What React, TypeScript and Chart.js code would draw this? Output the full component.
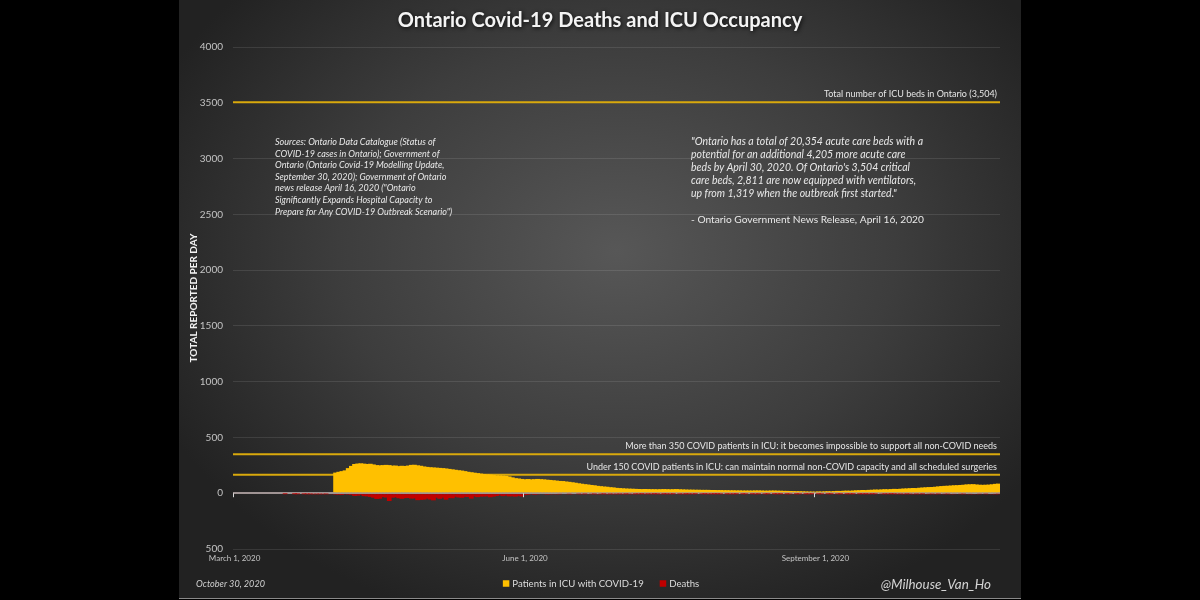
import React, { useEffect, useRef } from "react";
import { Chart, registerables } from "chart.js";

Chart.register(...registerables);

// ---------- data ----------
const FIRST_DAY = "2020-03-01";
const LAST_DAY = "2020-10-29";
const MONTH_NAMES = ["January", "February", "March", "April", "May", "June", "July", "August", "September", "October", "November", "December"];
const SHOWN_TICKS = ["March 1, 2020", "June 1, 2020", "September 1, 2020"];

// Patients in ICU with COVID-19 (first value = April 2, 2020)
const ICU_FIRST_DAY = "2020-04-02";
const ICU_APR = [185, 192, 198, 205, 225, 245, 262, 266, 268, 265, 262, 264, 258, 252, 250, 252, 254, 252, 247, 248, 243, 246, 244, 248, 254, 255, 250, 246, 240];
const ICU_MAY = [236, 233, 231, 229, 227, 225, 222, 218, 214, 210, 206, 203, 198, 192, 188, 184, 180, 176, 172, 169, 167, 163, 160, 159, 158, 156, 150, 142, 135, 132, 128];
const ICU_JUN = [125, 127, 124, 126, 128, 126, 124, 121, 119, 116, 113, 110, 109, 105, 102, 98, 94, 89, 85, 81, 78, 74, 71, 66, 63, 60, 58, 54, 52, 48];
const ICU_JUL = [46, 44, 42, 41, 40, 39, 38, 37, 38, 37, 36, 36, 35, 36, 37, 36, 35, 36, 37, 35, 34, 33, 32, 32, 31, 31, 30, 30, 30, 29, 29];
const ICU_AUG = [28, 28, 27, 27, 26, 26, 25, 25, 24, 24, 24, 24, 25, 25, 24, 23, 23, 24, 24, 23, 22, 21, 21, 20, 19, 18, 18, 17, 16, 15, 15];
const ICU_SEP = [14, 16, 15, 17, 18, 17, 19, 21, 20, 22, 23, 22, 24, 26, 27, 29, 28, 30, 31, 33, 32, 34, 36, 35, 37, 39, 38, 40, 42, 43];
const ICU_OCT = [45, 47, 46, 49, 51, 53, 55, 56, 58, 61, 64, 66, 67, 69, 71, 72, 74, 76, 79, 80, 81, 78, 76, 75, 76, 77, 80, 84, 86];

// Daily deaths (first value = March 17, 2020), drawn below zero
const DEATHS_FIRST_DAY = "2020-03-17";
const DEATHS_MAR = [1, 0, 0, 1, 2, 0, 2, 3, 3, 5, 4, 4, 5, 3, 10];
const DEATHS_APR = [8, 13, 14, 16, 10, 13, 15, 24, 22, 16, 26, 28, 33, 40, 51, 49, 34, 39, 70, 40, 36, 45, 50, 44, 43, 48, 46, 62, 59, 57];
const DEATHS_MAY = [48, 56, 64, 40, 50, 40, 58, 43, 45, 31, 38, 41, 32, 34, 48, 28, 35, 30, 29, 27, 36, 30, 25, 18, 26, 20, 28, 27, 30, 24, 30];
const DEATHS_JUN = [17, 15, 10, 14, 12, 9, 8, 13, 7, 10, 11, 6, 9, 8, 5, 7, 9, 4, 6, 3, 8, 5, 3, 7, 4, 2, 6, 3, 5, 4];
const DEATHS_JUL = [3, 5, 2, 4, 6, 2, 3, 1, 4, 2, 3, 1, 2, 5, 1, 2, 3, 1, 0, 2, 4, 1, 2, 3, 1, 0, 2, 1, 3, 2, 1];
const DEATHS_AUG = [1, 2, 0, 1, 3, 2, 1, 0, 1, 2, 0, 1, 3, 1, 0, 2, 1, 0, 1, 2, 1, 0, 1, 3, 0, 1, 2, 0, 1, 2, 1];
const DEATHS_SEP = [0, 1, 2, 0, 1, 1, 0, 2, 1, 0, 1, 2, 1, 0, 1, 2, 1, 3, 1, 2, 0, 4, 2, 3, 1, 2, 4, 3, 5, 2];
const DEATHS_OCT = [4, 6, 3, 5, 2, 7, 5, 4, 6, 3, 8, 5, 4, 7, 6, 9, 5, 4, 8, 6, 7, 10, 5, 9, 4, 8, 7, 6, 5];

// Reference lines
const REF_VALUES = [3504, 350, 165];
const REF_LABELS = [
  "Total number of ICU beds in Ontario (3,504)",
  "More than 350 COVID patients in ICU: it becomes impossible to support all non-COVID needs",
  "Under 150 COVID patients in ICU: can maintain normal non-COVID capacity and all scheduled surgeries",
];

const Y_MIN = -500;
const Y_MAX = 4000;
const Y_STEP = 500;

const TITLE = "Ontario Covid-19 Deaths and ICU Occupancy";
const Y_TITLE = "TOTAL REPORTED PER DAY";
const SOURCES_LINES = [
  "Sources: Ontario Data Catalogue (Status of",
  "COVID-19 cases in Ontario); Government of",
  "Ontario (Ontario Covid-19 Modelling Update,",
  "September 30, 2020); Government of Ontario",
  "news release April 16, 2020 (\"Ontario",
  "Significantly Expands Hospital Capacity to",
  "Prepare for Any COVID-19 Outbreak Scenario\")",
];
const QUOTE_LINES = [
  "\"Ontario has a total of 20,354 acute care beds with a",
  "potential for an additional 4,205 more acute care",
  "beds by April 30, 2020. Of Ontario's 3,504 critical",
  "care beds, 2,811 are now equipped with ventilators,",
  "up from 1,319 when the outbreak first started.\"",
];
const QUOTE_SOURCE = "- Ontario Government News Release, April 16, 2020";
const DATE_NOTE = "October 30, 2020";
const CREDIT = "@Milhouse_Van_Ho";
const LEGEND_LABELS = ["Patients in ICU with COVID-19", "Deaths"];

// ---------- styling ----------
const YELLOW = "#ffc000";
const RED = "#c00000";
const REF_COLOR = "#d9a90c";
const FONT = "Lato, 'Open Sans', sans-serif";

// ---------- table building ----------
function dayIndex(iso: string): number {
  const [y, m, d] = iso.split("-").map(Number);
  const [y0, m0, d0] = FIRST_DAY.split("-").map(Number);
  return Math.round((Date.UTC(y, m - 1, d) - Date.UTC(y0, m0 - 1, d0)) / 86400000);
}
const N_DAYS = dayIndex(LAST_DAY) + 1;
const LABELS: string[] = [];
for (let i = 0; i < N_DAYS; i++) {
  const [y0, m0, d0] = FIRST_DAY.split("-").map(Number);
  const dt = new Date(Date.UTC(y0, m0 - 1, d0 + i));
  LABELS.push(`${MONTH_NAMES[dt.getUTCMonth()]} ${dt.getUTCDate()}, ${dt.getUTCFullYear()}`);
}
function align(first: string, values: number[], sign: number): (number | null)[] {
  const out: (number | null)[] = new Array(N_DAYS).fill(null);
  const off = dayIndex(first);
  values.forEach((v, i) => {
    if (off + i < N_DAYS) out[off + i] = sign * v;
  });
  return out;
}
const ICU_SERIES = align(ICU_FIRST_DAY, [...ICU_APR, ...ICU_MAY, ...ICU_JUN, ...ICU_JUL, ...ICU_AUG, ...ICU_SEP, ...ICU_OCT], 1);
const DEATH_SERIES = align(DEATHS_FIRST_DAY, [...DEATHS_MAR, ...DEATHS_APR, ...DEATHS_MAY, ...DEATHS_JUN, ...DEATHS_JUL, ...DEATHS_AUG, ...DEATHS_SEP, ...DEATHS_OCT], -1);

const decorPlugin = {
  id: "decor",
  beforeDatasetsDraw(chart: any) {
    const { ctx, chartArea: a, scales } = chart;
    const y = scales.y;
    ctx.save();
    ctx.strokeStyle = REF_COLOR;
    ctx.lineWidth = 2;
    REF_VALUES.forEach((v) => {
      const py = y.getPixelForValue(v);
      ctx.beginPath();
      ctx.moveTo(a.left, py);
      ctx.lineTo(a.right, py);
      ctx.stroke();
    });
    ctx.restore();
  },
  afterDatasetsDraw(chart: any) {
    const { ctx, chartArea: a, scales } = chart;
    const x = scales.x;
    const y = scales.y;
    const y0 = y.getPixelForValue(0);
    const half = (x.getPixelForValue(1) - x.getPixelForValue(0)) / 2;
    ctx.save();
    ctx.strokeStyle = "#d8d8d8";
    ctx.lineWidth = 1;
    LABELS.forEach((lab, i) => {
      if (!SHOWN_TICKS.includes(lab)) return;
      const px = Math.round(x.getPixelForValue(i) - half) + 0.5;
      ctx.beginPath();
      ctx.moveTo(px, y0);
      ctx.lineTo(px, y0 + 4);
      ctx.stroke();
    });
    // reference labels
    ctx.fillStyle = "#e6e6e6";
    ctx.font = `9px ${FONT}`;
    ctx.textAlign = "right";
    ctx.textBaseline = "middle";
    REF_VALUES.forEach((v, i) => {
      const py = y.getPixelForValue(v);
      ctx.fillText(REF_LABELS[i], a.right - 3, py - 8);
    });
    ctx.restore();
  },
  afterDraw(chart: any) {
    const { ctx } = chart;
    ctx.save();
    // title
    ctx.shadowColor = "rgba(0,0,0,0.85)";
    ctx.shadowBlur = 4;
    ctx.shadowOffsetX = 1;
    ctx.shadowOffsetY = 1;
    ctx.fillStyle = "#f4f4f4";
    ctx.font = `bold 20px ${FONT}`;
    ctx.textAlign = "center";
    ctx.textBaseline = "middle";
    ctx.fillText(TITLE, 600, 21);
    ctx.shadowColor = "transparent";
    ctx.shadowBlur = 0;
    ctx.shadowOffsetX = 0;
    ctx.shadowOffsetY = 0;

    // sources
    ctx.textAlign = "left";
    ctx.fillStyle = "#e8e8e8";
    ctx.font = `italic 9px ${FONT}`;
    SOURCES_LINES.forEach((t, i) => ctx.fillText(t, 275, 142 + i * 11.6));

    // quote
    ctx.font = `italic 10.5px ${FONT}`;
    QUOTE_LINES.forEach((t, i) => ctx.fillText(t, 691, 142 + i * 12.9));
    ctx.font = `10.2px ${FONT}`;
    ctx.fillText(QUOTE_SOURCE, 691, 220);

    // footer date
    ctx.fillStyle = "#d0d0d0";
    ctx.font = `italic 9.1px ${FONT}`;
    ctx.fillText(DATE_NOTE, 196, 584);

    // legend
    ctx.font = `9.6px ${FONT}`;
    const sq = 6.5;
    const gap = 3;
    const spacing = 16;
    const w0 = ctx.measureText(LEGEND_LABELS[0]).width;
    const w1 = ctx.measureText(LEGEND_LABELS[1]).width;
    const total = sq + gap + w0 + spacing + sq + gap + w1;
    let lx = 601 - total / 2;
    const ly = 583.5;
    ctx.fillStyle = YELLOW;
    ctx.fillRect(lx, ly - sq / 2, sq, sq);
    ctx.fillStyle = "#dcdcdc";
    ctx.fillText(LEGEND_LABELS[0], lx + sq + gap, ly);
    lx += sq + gap + w0 + spacing;
    ctx.fillStyle = RED;
    ctx.fillRect(lx, ly - sq / 2, sq, sq);
    ctx.fillStyle = "#dcdcdc";
    ctx.fillText(LEGEND_LABELS[1], lx + sq + gap, ly);

    // credit
    ctx.font = `italic 13.4px ${FONT}`;
    ctx.textAlign = "right";
    ctx.fillStyle = "#d4d4d4";
    ctx.fillText(CREDIT, 991, 585);
    ctx.restore();
  },
};

export default function App() {
  const ref = useRef<HTMLCanvasElement | null>(null);
  useEffect(() => {
    if (!ref.current) return;
    const chart = new Chart(ref.current, {
      type: "bar",
      data: {
        labels: LABELS,
        datasets: [
          {
            label: LEGEND_LABELS[0],
            data: ICU_SERIES,
            backgroundColor: YELLOW,
            borderWidth: 0,
            barPercentage: 1.5,
            categoryPercentage: 1,
          },
          {
            label: LEGEND_LABELS[1],
            data: DEATH_SERIES,
            backgroundColor: RED,
            borderWidth: 0,
            barPercentage: 1.5,
            categoryPercentage: 1,
          },
        ],
      },
      options: {
        responsive: false,
        animation: false,
        events: [],
        layout: { padding: { left: 183, right: 200, top: 47, bottom: 31 } },
        plugins: {
          legend: { display: false },
          title: { display: false },
          tooltip: { enabled: false },
        },
        scales: {
          x: {
            stacked: true,
            grid: { display: false, drawTicks: false },
            border: { display: false },
            ticks: {
              autoSkip: false,
              maxRotation: 0,
              minRotation: 0,
              padding: 5,
              color: "#c4c4c4",
              font: { family: FONT, size: 8 },
              callback: (_v: any, i: number) => (SHOWN_TICKS.includes(LABELS[i]) ? LABELS[i] : null),
            },
            afterFit: (s: any) => {
              s.height = 20;
            },
          },
          y: {
            stacked: true,
            min: Y_MIN,
            max: Y_MAX,
            grid: {
              drawTicks: false,
              color: (c: any) => (c.tick && c.tick.value === 0 ? "#a09494" : "rgba(255,255,255,0.10)"),
              lineWidth: (c: any) => (c.tick && c.tick.value === 0 ? 2 : 1),
            },
            border: { display: false },
            ticks: {
              stepSize: Y_STEP,
              padding: 10,
              color: "#c4c4c4",
              font: { family: FONT, size: 10 },
              callback: (v: any) => String(Math.abs(Number(v))),
            },
            title: {
              display: true,
              text: Y_TITLE,
              color: "#f2f2f2",
              font: { family: FONT, size: 10, weight: "bold" },
              padding: { top: 5, bottom: 0 },
            },
            afterFit: (s: any) => {
              s.width = 50;
            },
          },
        },
      },
      plugins: [decorPlugin],
    });
    return () => chart.destroy();
  }, []);

  return (
    <div style={{ position: "fixed", left: 0, top: 0, width: 1200, height: 600, background: "#000", overflow: "hidden" }}>
      <div
        style={{
          position: "absolute",
          left: 179,
          top: 0,
          width: 842,
          height: 598,
          background: "radial-gradient(ellipse 60% 65% at 52% 42%, #575757 0%, #3d3d3d 55%, #222 100%)",
          borderBottom: "1px solid #8a8a8a",
        }}
      />
      <canvas ref={ref} width={1200} height={600} style={{ position: "absolute", left: 0, top: 0, width: 1200, height: 600 }} />
    </div>
  );
}
